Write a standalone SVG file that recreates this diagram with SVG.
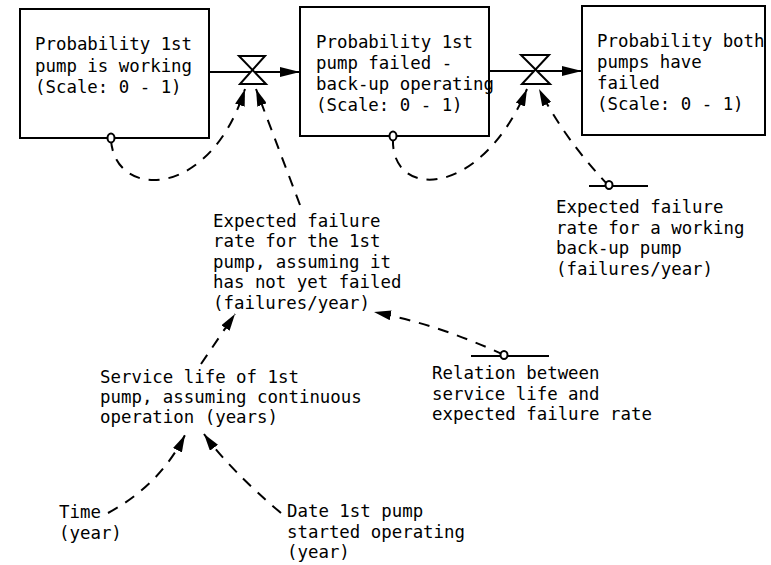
<svg xmlns="http://www.w3.org/2000/svg" width="771" height="565" viewBox="0 0 771 565">
  <style>
    .lbl { font-family: "DejaVu Sans Mono", "Liberation Mono", monospace; font-size: 17.4px; fill: #000; }
    .box { fill: #fff; stroke: #000; stroke-width: 2; }
    .pipe { fill: none; stroke: #000; stroke-width: 2; marker-end: url(#flowHead); }
    .valve { fill: #fff; stroke: #000; stroke-width: 2; stroke-linejoin: miter; }
    .info { fill: none; stroke: #000; stroke-width: 2; stroke-dasharray: 11 9; marker-end: url(#infoHead); }
    .const { fill: none; stroke: #000; stroke-width: 2; }
    .tap { fill: #fff; stroke: #000; stroke-width: 2; }
  </style>
  <defs>
    <marker id="flowHead" viewBox="0 0 20 10" refX="20" refY="5" markerWidth="20" markerHeight="10" markerUnits="userSpaceOnUse" orient="auto">
      <path d="M0,0 L20,5 L0,10 Z" fill="#000"/>
    </marker>
    <marker id="infoHead" viewBox="0 0 17 10" refX="17" refY="5" markerWidth="17" markerHeight="10" markerUnits="userSpaceOnUse" orient="auto">
      <path d="M0,0 L17,5 L0,10 Z" fill="#000"/>
    </marker>
  </defs>
  <rect width="771" height="565" fill="#fff"/>

  <!-- connectors: material flows and information links -->
  <g id="connectors">
    <path class="pipe" d="M209,72 L300,72"/>
    <path class="pipe" d="M489,71 L582,71"/>
    <path class="info" d="M111,140 C115,200 210,200 245,89"/>
    <path class="info" d="M300,205 L256,89"/>
    <path class="info" d="M393,138 C390,200 480,200 527,89"/>
    <path class="info" d="M609,186 Q565,140 539,89"/>
    <path class="info" d="M504,355 Q440,325 374,312"/>
    <path class="info" d="M201,364 L235,314"/>
    <path class="info" d="M108,513 Q160,485 185,435"/>
    <path class="info" d="M281,513 Q230,470 204,434"/>
  </g>

  <!-- valves on the flows -->
  <g id="valve1">
    <path class="valve" d="M239,56 H265 L240,84 H266 Z"/>
  </g>
  <g id="valve2">
    <path class="valve" d="M521,55 H549 L522,84 H550 Z"/>
  </g>

  <!-- stocks -->
  <g id="stock1">
    <rect class="box" x="20" y="9" width="189" height="129"/>
    <text class="lbl" x="35" y="50">Probability 1st</text>
    <text class="lbl" x="35" y="71.5">pump is working</text>
    <text class="lbl" x="35" y="93">(Scale: 0 - 1)</text>
    <ellipse class="tap" cx="111" cy="138" rx="3.5" ry="4.5"/>
  </g>
  <g id="stock2">
    <rect class="box" x="300" y="7" width="189" height="129"/>
    <text class="lbl" x="316" y="48">Probability 1st</text>
    <text class="lbl" x="316" y="69">pump failed -</text>
    <text class="lbl" x="316" y="90">back-up operating</text>
    <text class="lbl" x="316" y="111">(Scale: 0 - 1)</text>
    <ellipse class="tap" cx="393" cy="136" rx="3.5" ry="4.5"/>
  </g>
  <g id="stock3">
    <rect class="box" x="582" y="6" width="183" height="129"/>
    <text class="lbl" x="597" y="47">Probability both</text>
    <text class="lbl" x="597" y="68">pumps have</text>
    <text class="lbl" x="597" y="88.5">failed</text>
    <text class="lbl" x="597" y="110">(Scale: 0 - 1)</text>
  </g>

  <!-- constants and auxiliaries -->
  <g id="backupRate">
    <line class="const" x1="589" y1="186" x2="648" y2="186"/>
    <ellipse class="tap" cx="609" cy="185" rx="3.5" ry="4"/>
    <text class="lbl" x="556" y="213">Expected failure</text>
    <text class="lbl" x="556" y="233.5">rate for a working</text>
    <text class="lbl" x="556" y="254">back-up pump</text>
    <text class="lbl" x="556" y="275">(failures/year)</text>
  </g>
  <g id="firstPumpRate">
    <text class="lbl" x="213" y="226.5">Expected failure</text>
    <text class="lbl" x="213" y="247">rate for the 1st</text>
    <text class="lbl" x="213" y="267.5">pump, assuming it</text>
    <text class="lbl" x="213" y="288">has not yet failed</text>
    <text class="lbl" x="213" y="309">(failures/year)</text>
  </g>
  <g id="relation">
    <line class="const" x1="471" y1="356" x2="549" y2="356"/>
    <ellipse class="tap" cx="504" cy="355" rx="3.5" ry="4"/>
    <text class="lbl" x="432" y="379">Relation between</text>
    <text class="lbl" x="432" y="400">service life and</text>
    <text class="lbl" x="432" y="420">expected failure rate</text>
  </g>
  <g id="serviceLife">
    <text class="lbl" x="100" y="382.5">Service life of 1st</text>
    <text class="lbl" x="100" y="402.5">pump, assuming continuous</text>
    <text class="lbl" x="100" y="423">operation (years)</text>
  </g>
  <g id="time">
    <text class="lbl" x="59" y="518">Time</text>
    <text class="lbl" x="59" y="539">(year)</text>
  </g>
  <g id="startDate">
    <text class="lbl" x="287" y="517">Date 1st pump</text>
    <text class="lbl" x="287" y="538">started operating</text>
    <text class="lbl" x="287" y="558">(year)</text>
  </g>
</svg>
